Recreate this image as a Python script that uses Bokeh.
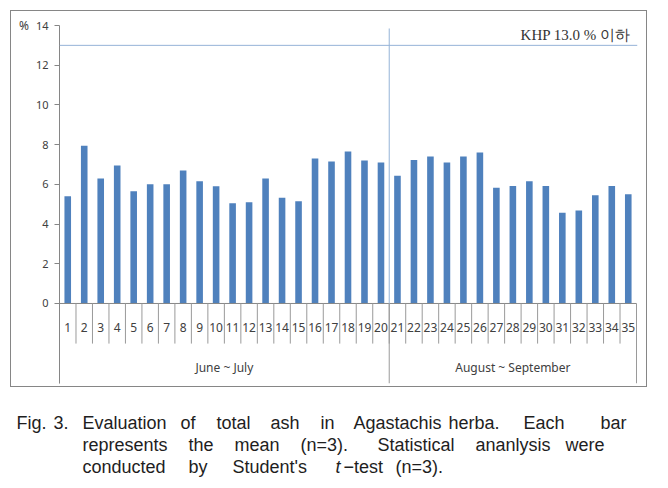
from bokeh.plotting import figure
from bokeh.models import Range1d, FixedTicker, ColumnDataSource, Span
from bokeh.layouts import column
from bokeh.core.properties import value
from bokeh.embed import file_html
from bokeh.resources import INLINE

# ---------------- data ----------------
categories = [str(i) for i in range(1, 36)]
total_ash = [5.40, 7.95, 6.30, 6.95, 5.65, 6.00, 6.00, 6.70, 6.15, 5.90,
             5.05, 5.10, 6.30, 5.33, 5.15, 7.30, 7.15, 7.65, 7.20, 7.10,
             6.43, 7.22, 7.40, 7.10, 7.40, 7.60, 5.83, 5.92, 6.15, 5.92,
             4.57, 4.68, 5.45, 5.92, 5.50]
groups = ["June ~ July", "August ~ September"]
group_sizes = [20, 15]
limit_value = 13.0
limit_label = "KHP 13.0 % 이하"
y_ticks = [0, 2, 4, 6, 8, 10, 12, 14]
y_unit = "%"

caption_lines = [
    [("Fig.", 16), ("3.", 53), ("Evaluation", 82), ("of", 180), ("total", 216),
     ("ash", 270), ("in", 320), ("Agastachis", 353), ("herba.", 448),
     ("Each", 523), ("bar", 600)],
    [("represents", 82), ("the", 188), ("mean", 234), ("(n=3).", 300),
     ("Statistical", 377), ("ananlysis", 475), ("were", 565)],
    [("conducted", 82), ("by", 188), ("Student's", 232), ("t", 335),
     ("\u2212test", 343), ("(n=3).", 395)],
]
caption_baselines = [428, 450.5, 472.5]

# ---------------- derived ----------------
n = len(categories)
xs = list(range(1, n + 1))
bounds = [0.5]
for s in group_sizes:
    bounds.append(bounds[-1] + s)
group_centers = [(bounds[i] + bounds[i + 1]) / 2 for i in range(len(groups))]

AXIS = "#868686"
SEP = "#9a9a9a"
TXT = "#404040"
BLUE = "#4F81BD"
REF = "#95B3D7"

y_bottom = -4.03
x_end = n + 0.5 + 0.06
BL, BR = 48, 11

p = figure(width=637, height=377, x_range=Range1d(0.5, x_end),
           y_range=Range1d(y_bottom, 14), output_backend="svg",
           toolbar_location=None, min_border_left=BL, min_border_right=BR,
           min_border_top=14, min_border_bottom=5, margin=(10, 0, 0, 10))
p.styles = {"border": "1px solid #868686"}
p.outline_line_color = None
p.xgrid.visible = False
p.ygrid.visible = False
p.xaxis.visible = False
p.background_fill_color = "white"
p.border_fill_color = "white"

ya = p.yaxis[0]
ya.ticker = FixedTicker(ticks=y_ticks)
ya.major_tick_out = 5
ya.major_tick_in = 0
ya.minor_tick_line_color = None
ya.axis_line_color = AXIS
ya.major_tick_line_color = AXIS
ya.major_label_standoff = 6
ya.major_label_text_font = "Noto Sans"
ya.major_label_text_font_size = "11px"
ya.major_label_text_color = TXT

props = ya.properties()
if "axis_label_orientation" in props:
    ya.axis_label = y_unit
    ya.axis_label_orientation = "horizontal"
    if "axis_label_align" in props:
        ya.axis_label_align = "end"
    ya.axis_label_standoff = 4
    ya.axis_label_text_font = "Noto Sans"
    ya.axis_label_text_font_size = "12px"
    ya.axis_label_text_font_style = "normal"
    ya.axis_label_text_color = TXT

src = ColumnDataSource(dict(x=xs, top=total_ash, label=categories))
p.vbar(x="x", top="top", width=0.4, bottom=0, source=src,
       fill_color=BLUE, line_color=None)

# x axis line at zero
p.segment(x0=[0.5], y0=[0], x1=[n + 0.5], y1=[0], line_color=AXIS, line_width=1)
# category separators
inner = [0.5 + k for k in range(1, n)]
p.segment(x0=inner, y0=[0] * len(inner), x1=inner, y1=[-2.02] * len(inner),
          line_color=SEP, line_width=1)
# group separators
p.segment(x0=bounds, y0=[0] * len(bounds), x1=bounds, y1=[y_bottom] * len(bounds),
          line_color=SEP, line_width=1)

# category labels
p.text(x="x", y=-1.21, text="label", source=src, text_align="center",
       text_baseline="middle", text_font=value("Noto Sans"),
       text_font_size="12px", text_color=TXT)
# group labels
p.text(x=group_centers, y=[-3.22] * len(groups), text=groups, text_align="center",
       text_baseline="middle", text_font=value("Noto Sans"),
       text_font_size="12px", text_color=TXT)

# limit line and divider
p.add_layout(Span(location=limit_value, dimension="width", line_color=REF, line_width=1))
p.segment(x0=[bounds[1]], y0=[0], x1=[bounds[1]], y1=[13.85], line_color=REF, line_width=1)
p.text(x=[35.14], y=[13.54], text=[limit_label], text_align="right",
       text_baseline="alphabetic", text_font=value("Liberation Serif"),
       text_font_size="15px", text_color="#333333")

# ---------------- caption ----------------
# same side borders as the chart (column aligns frames); shifted left by a
# negative margin so that the frame starts at page x = 8
ML = -40
CH, CTOP = 95, 389
FL = ML + BL            # page x of frame left
FR = 650                # page x of frame right
CW = FR - ML + BR - ML  # the negative margin is taken off the width
c = figure(width=CW, height=CH, x_range=Range1d(FL, FR),
           y_range=Range1d(CTOP + CH, CTOP),
           output_backend="svg", toolbar_location=None,
           min_border_left=BL, min_border_right=BR, min_border_top=0,
           min_border_bottom=0, x_axis_location=None, y_axis_location=None,
           margin=(0, 0, 0, ML))
c.grid.visible = False
c.outline_line_color = None
c.background_fill_color = None
c.border_fill_color = None
for words, base in zip(caption_lines, caption_baselines):
    for w, x in words:
        c.text(x=[x], y=[base - 4], text=[w], text_align="left",
               text_baseline="alphabetic",
               text_font=value("Liberation Sans"), text_font_size="18px",
               text_color="#1e1e1e",
               text_font_style="italic" if w == "t" else "normal")

layout = column(p, c, spacing=0)
open("out.html", "w").write(file_html(layout, INLINE))
